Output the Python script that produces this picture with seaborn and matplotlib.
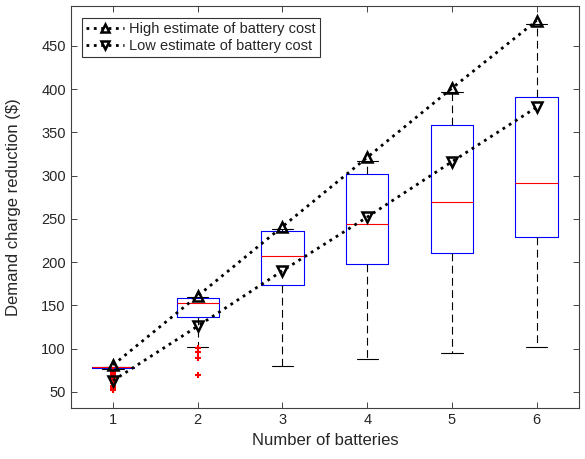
import matplotlib
matplotlib.use("Agg")
import matplotlib.pyplot as plt
import seaborn as sns
import pandas as pd

# ---- data ----
batteries = [1, 2, 3, 4, 5, 6]
high_estimate = [81, 161, 241, 321, 401, 479]
low_estimate = [63, 126, 190, 252, 316, 379]

box_q1 = [77.6, 136, 173, 198, 210, 229]
box_median = [79.2, 153, 207, 244, 270, 291]
box_q3 = [79.2, 159, 236, 302, 358, 391]
whisker_low = [76.2, 102, 80, 88, 95, 102]
whisker_high = [79.2, 160, 238, 317, 397, 475]
outliers = [[74, 72, 70, 68, 66, 64, 62, 60, 57, 55, 52],
            [100.5, 96, 89, 70], [], [], [], []]

series_labels = ["High estimate of battery cost", "Low estimate of battery cost"]

sns.set_style("ticks")
plt.rcParams["font.family"] = ["Liberation Sans", "DejaVu Sans"]

fig = plt.figure(figsize=(5.85, 4.59), dpi=100)
ax = fig.add_axes([0.1209, 0.1105, 0.8688, 0.8764])

stats = []
for i in range(len(batteries)):
    stats.append(dict(med=box_median[i], q1=box_q1[i], q3=box_q3[i],
                      whislo=whisker_low[i], whishi=whisker_high[i],
                      fliers=outliers[i]))

ax.bxp(stats, positions=batteries, widths=0.5, capwidths=0.25,
       showfliers=True, manage_ticks=False,
       boxprops=dict(color="#0000ff", lw=0.8),
       medianprops=dict(color="#ff0000", lw=0.8),
       whiskerprops=dict(color="black", lw=0.8, ls=(0, (7, 4))),
       capprops=dict(color="black", lw=0.8),
       flierprops=dict(marker="+", markeredgecolor="#ff0000", markersize=5,
                       markeredgewidth=1.5, linestyle="none"))

df = pd.DataFrame({"batteries": batteries * 2,
                   "value": high_estimate + low_estimate,
                   "series": [series_labels[0]] * 6 + [series_labels[1]] * 6})

for lab, mk in zip(series_labels, ["^", "v"]):
    sub = df[df["series"] == lab]
    sns.lineplot(data=sub, x="batteries", y="value", ax=ax, color="black",
                 linestyle=":", lw=2, marker=mk, markersize=7.5,
                 markerfacecolor="none", markeredgecolor="black",
                 markeredgewidth=1.8, label=lab, zorder=5)

ax.set_xlim(0.5, 6.5)
ax.set_ylim(31, 496)
ax.set_xticks(batteries)
ax.set_yticks(range(50, 451, 50))
ax.set_xlabel("Number of batteries", fontsize=12, color="#262626")
ax.set_ylabel("Demand charge reduction (\\$)", fontsize=12, color="#262626")
ax.yaxis.set_label_coords(-0.098, 0.5)
ax.tick_params(direction="in", top=True, right=True, length=4, width=0.6,
               color="#262626", labelcolor="#262626", labelsize=10.5)
for sp in ax.spines.values():
    sp.set_visible(True)
    sp.set_color("#404040")
    sp.set_linewidth(0.8)

leg = ax.legend(loc="upper left", bbox_to_anchor=(0.022, 0.97),
                fontsize=10.5, frameon=True, fancybox=False, numpoints=1,
                markerscale=0.7, handlelength=2.6, handletextpad=0.3,
                borderpad=0.3, labelspacing=0.15, borderaxespad=0)
leg.get_frame().set_edgecolor("black")
leg.get_frame().set_linewidth(0.8)
for t in leg.get_texts():
    t.set_color("#262626")

fig.savefig("out.png", dpi=100)
